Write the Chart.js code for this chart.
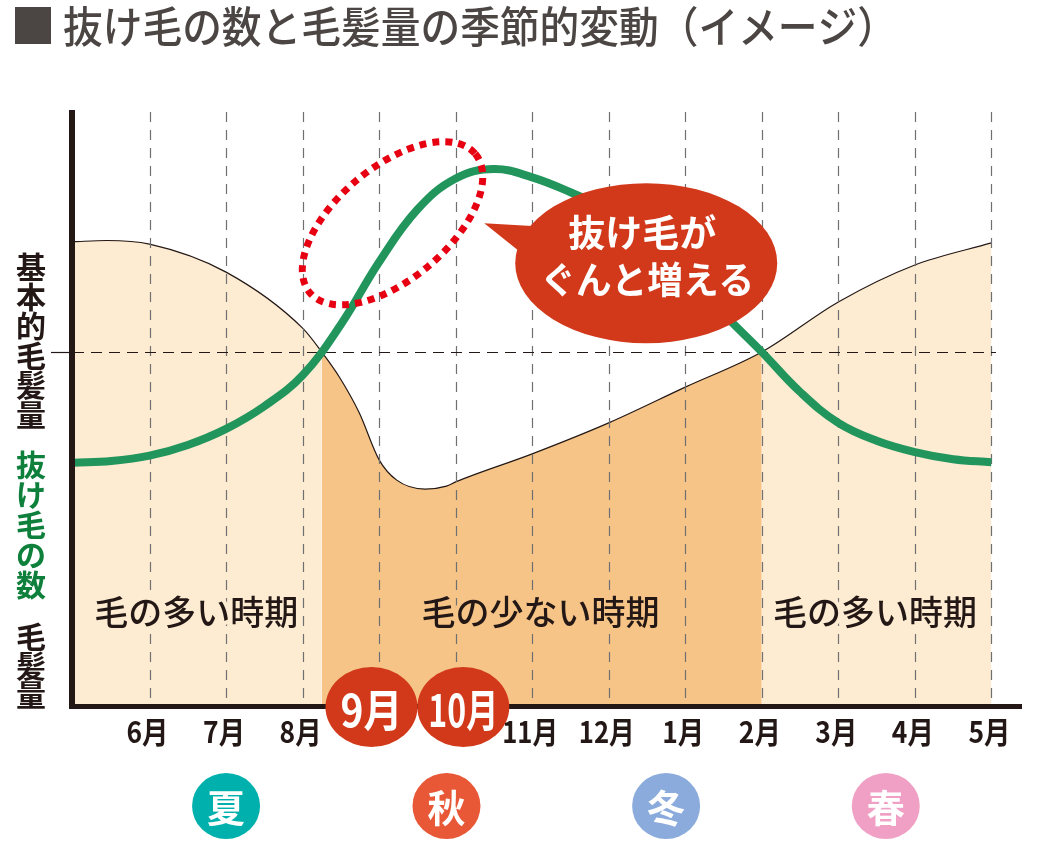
<!DOCTYPE html>
<html lang="ja">
<head>
<meta charset="UTF-8">
<title>抜け毛の数と毛髪量の季節的変動</title>
<script src="https://cdn.jsdelivr.net/npm/chart.js@4.4.1/dist/chart.umd.min.js"></script>
<style>
    html, body { margin: 0; padding: 0; background: #fff; }
    canvas { display: block; }
</style>
</head>
<body>
<canvas id="seasonChart" width="1045" height="845"></canvas>
<script>
const months = ['6月', '7月', '8月', '9月', '10月', '11月', '12月', '1月', '2月', '3月', '4月', '5月'];
const highlightMonths = ['9月', '10月'];
const seasons = ['夏', '秋', '冬', '春'];
const periodLabels = ['毛の多い時期', '毛の少ない時期', '毛の多い時期'];
const axisTitles = ['基本的毛髪量', '抜け毛の数', '毛髪量'];
const bubbleLines = ['抜け毛が', 'ぐんと増える'];
const title = '抜け毛の数と毛髪量の季節的変動（イメージ）';

// 毛髪量 (x = 月の位置、0 が左端)
const volumeX = [0, 0.44, 1, 2, 3, 3.25, 3.48, 3.74, 4, 4.23, 4.6, 4.88, 5, 6, 7, 8, 9, 10, 11, 12];
const hairVolume = [77.9, 78.1, 77.5, 72.8, 63.4, 59.4, 55.2, 49.2, 41.3, 37.9, 36.4, 36.9, 37.6, 42.3, 47.5, 53.5, 59.4, 67.8, 74.0, 77.7];

// 抜け毛の数
const lossX = [0, 0.5, 1, 1.5, 2, 2.5, 3, 3.5, 4, 4.5, 5, 5.5, 6, 6.5, 7, 7.5, 8, 8.5, 9, 9.5, 10, 10.5, 11, 11.5, 12];
const hairLoss = [40.8, 41.1, 42.0, 43.8, 46.5, 50.3, 55.5, 64.0, 74.5, 83.3, 88.5, 90.1, 88.7, 86.2, 83.2, 78.7, 72.8, 65.8, 59.4, 52.7, 47.5, 44.5, 42.6, 41.4, 40.9];

const baseLevel = 59.4; // 基本的毛髪量
const lowStart = 3.25;  // 毛の少ない時期の始まり
const lowEnd = 9;       // 毛の少ない時期の終わり

const FONT = "'Noto Sans CJK JP', 'Noto Sans', sans-serif";
const INK = '#231815';
const LIGHT = '#fdebd2';
const DARK = '#f7c488';
const RED = '#d2391b';

// 飾り・軸・文字を描くプラグイン
const decorations = {
    id: 'decorations',
    beforeDatasetDraw(chart, args) {
        if (args.index !== 0) return; // 緑の線の直前に描く
        const {ctx, chartArea: area, scales: {x, y}} = chart;
        ctx.save();

        // 縦の点線
        ctx.strokeStyle = '#707070';
        ctx.lineWidth = 1.2;
        ctx.setLineDash([10, 8]);
        months.forEach((m, i) => {
            const px = Math.round(x.getPixelForValue(i + 1)) + 0.5;
            ctx.beginPath();
            ctx.moveTo(px, area.top + 2);
            ctx.lineTo(px, area.bottom);
            ctx.stroke();
        });

        // 基本的毛髪量の線
        const by = Math.round(y.getPixelForValue(baseLevel)) + 0.5;
        ctx.strokeStyle = INK;
        ctx.setLineDash([11, 7]);
        ctx.beginPath();
        ctx.moveTo(area.left, by);
        ctx.lineTo(x.getPixelForValue(12.06), by);
        ctx.stroke();
        ctx.setLineDash([]);
        ctx.beginPath();
        ctx.moveTo(area.left - 22, by);
        ctx.lineTo(area.left, by);
        ctx.stroke();

        // 時期のラベル
        const spots = [1.61, 6.11, 10.48];
        const bgs = [LIGHT, DARK, LIGHT];
        ctx.font = `500 34px ${FONT}`;
        ctx.textAlign = 'center';
        ctx.textBaseline = 'middle';
        ctx.lineJoin = 'round';
        periodLabels.forEach((t, i) => {
            const px = x.getPixelForValue(spots[i]);
            const py = y.getPixelForValue(15.8);
            const w = t.length * 35;
            ctx.strokeStyle = bgs[i];
            ctx.lineWidth = 8;
            ctx.strokeText(t, px, py, w);
            ctx.fillStyle = INK;
            ctx.fillText(t, px, py, w);
        });
        ctx.restore();
    },
    afterDatasetsDraw(chart) {
        const {ctx, chartArea: area, scales: {x, y}} = chart;
        ctx.save();

        // 軸
        ctx.fillStyle = INK;
        ctx.fillRect(area.left - 4, area.top, 6, area.bottom - area.top + 3);
        ctx.fillRect(area.left - 4, area.bottom - 2, area.right - area.left + 4, 5);

        // 月ラベル
        ctx.textAlign = 'center';
        ctx.textBaseline = 'middle';
        const badgeShift = {'9月': -0.1, '10月': 0.1};
        months.forEach((m, i) => {
            if (highlightMonths.includes(m)) {
                const cx = x.getPixelForValue(i + 1 + badgeShift[m]);
                const cy = area.bottom + 1;
                ctx.fillStyle = RED;
                ctx.beginPath();
                ctx.ellipse(cx, cy, 46, 40, 0, 0, Math.PI * 2);
                ctx.fill();
                ctx.fillStyle = '#fff';
                ctx.font = `bold 44px ${FONT}`;
                ctx.fillText(m, cx, cy + 3, m.length === 2 ? 62 : 70);
            } else {
                ctx.fillStyle = INK;
                ctx.font = `bold 30px ${FONT}`;
                ctx.fillText(m, x.getPixelForValue(i + 1) - 2, area.bottom + 26, (m.length - 1) * 14 + 28);
            }
        });

        // 季節
        const seasonSpots = [2, 4.88, 7.75, 10.62];
        const seasonColors = ['#00b0ac', '#e85836', '#8aabdb', '#f0a0c4'];
        seasons.forEach((s, i) => {
            const cx = x.getPixelForValue(seasonSpots[i]);
            const cy = 806;
            ctx.fillStyle = seasonColors[i];
            ctx.beginPath();
            ctx.ellipse(cx, cy, 34, 33, 0, 0, Math.PI * 2);
            ctx.fill();
            ctx.fillStyle = '#fff';
            ctx.font = `bold 38px ${FONT}`;
            ctx.fillText(s, cx, cy + 2);
        });

        // 縦書きの軸タイトル
        ctx.font = `bold 30px ${FONT}`;
        const titleSpots = [[267, 29.5, INK], [465, 30, '#0e803c'], [637, 29, INK]];
        axisTitles.forEach((t, i) => {
            const [startY, step, color] = titleSpots[i];
            ctx.fillStyle = color;
            [...t].forEach((ch, k) => ctx.fillText(ch, 31, startY + k * step));
        });

        // 吹き出し
        const bx = x.getPixelForValue(7.49);
        const bcy = y.getPixelForValue(74.3);
        ctx.fillStyle = RED;
        ctx.beginPath();
        ctx.moveTo(bx - 162, bcy - 40);
        ctx.lineTo(bx - 110, bcy - 37);
        ctx.lineTo(bx - 122, bcy - 8);
        ctx.closePath();
        ctx.fill();
        ctx.beginPath();
        ctx.ellipse(bx, bcy, 131, 80, 0, 0, Math.PI * 2);
        ctx.fill();
        ctx.fillStyle = '#fff';
        ctx.font = `bold 37px ${FONT}`;
        ctx.fillText(bubbleLines[0], bx - 4, bcy - 30, 152);
        ctx.fillText(bubbleLines[1], bx + 1, bcy + 17, 214);

        // 赤い点線の楕円
        ctx.strokeStyle = '#e60012';
        ctx.lineWidth = 7;
        ctx.setLineDash([7, 6]);
        ctx.beginPath();
        ctx.ellipse(x.getPixelForValue(4.175), y.getPixelForValue(81), 108, 56, -40 * Math.PI / 180, 0, Math.PI * 2);
        ctx.stroke();
        ctx.setLineDash([]);

        // タイトル
        ctx.fillStyle = '#4b4643';
        ctx.fillRect(15, 7, 36, 37);
        ctx.font = `500 43px ${FONT}`;
        ctx.textAlign = 'left';
        ctx.fillText(title, 63, 27, 834);
        ctx.restore();
    }
};

const ctx = document.getElementById('seasonChart').getContext('2d');
new Chart(ctx, {
    type: 'line',
    data: {
        datasets: [{
            label: '抜け毛の数',
            data: lossX.map((v, i) => ({x: v, y: hairLoss[i]})),
            borderColor: '#21955c',
            borderWidth: 8,
            pointRadius: 0,
            tension: 0.4,
            fill: false,
            order: 0
        }, {
            label: '毛髪量',
            data: volumeX.map((v, i) => ({x: v, y: hairVolume[i]})),
            borderColor: INK,
            borderWidth: 1.2,
            pointRadius: 0,
            cubicInterpolationMode: 'monotone',
            fill: 'origin',
            backgroundColor: LIGHT,
            segment: {
                backgroundColor: c => (c.p0.parsed.x >= lowStart && c.p1.parsed.x <= lowEnd) ? DARK : LIGHT
            },
            order: 1
        }]
    },
    options: {
        responsive: false,
        animation: false,
        devicePixelRatio: 1,
        layout: {
            padding: {left: 73, right: 23, top: 110, bottom: 139}
        },
        scales: {
            x: {type: 'linear', min: 0, max: 12.4, display: false},
            y: {type: 'linear', min: 0, max: 100, display: false}
        },
        plugins: {
            legend: {display: false},
            tooltip: {enabled: false}
        }
    },
    plugins: [decorations]
});
</script>
</body>
</html>
